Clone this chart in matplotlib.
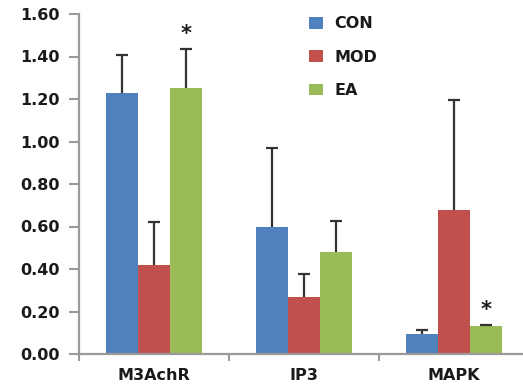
import numpy as np
import matplotlib
matplotlib.use("Agg")
import matplotlib.pyplot as plt

categories = ["M3AchR", "IP3", "MAPK"]
series = ["CON", "MOD", "EA"]
con_vals = [1.23, 0.60, 0.095]
con_err = [0.175, 0.37, 0.02]
mod_vals = [0.42, 0.27, 0.68]
mod_err = [0.20, 0.105, 0.515]
ea_vals = [1.25, 0.48, 0.13]
ea_err = [0.185, 0.145, 0.006]
star_idx = [0, 2]  # EA significant
y_ticks = [0.0, 0.2, 0.4, 0.6, 0.8, 1.0, 1.2, 1.4, 1.6]

colors = ["#4F81BD", "#C0504D", "#9BBB59"]
txt_color = '#1a1a1a'
axis_color = '#9a9a9a'

plt.rcParams['font.family'] = ['DejaVu Sans']
plt.rcParams['font.weight'] = 'bold'

fig = plt.figure(figsize=(5.23, 3.85), dpi=100)
ax = fig.add_axes([79 / 523, 1 - 354 / 385, 450 / 523, 340 / 385])

x = np.arange(len(categories))
w = 0.213
vals = [con_vals, mod_vals, ea_vals]
errs = [con_err, mod_err, ea_err]
for i, (v, e) in enumerate(zip(vals, errs)):
    pos = x + (i - 1) * w
    ax.bar(pos, v, width=w, color=colors[i], label=series[i], zorder=2)
    _, caps, _ = ax.errorbar(pos, v, yerr=[np.zeros(len(v)), e], fmt='none',
                             ecolor='#333333', elinewidth=1.6, capsize=4.5,
                             capthick=1.6, zorder=3)
    caps[0].set_visible(False)  # only upper cap

for k in star_idx:
    ax.text(x[k] + w, ea_vals[k] + ea_err[k] + 0.045, "*", ha='center',
            va='baseline', fontsize=15, color=txt_color)

ax.set_xlim(-0.5, 2.5)
ax.set_ylim(0, 1.6)
ax.set_yticks(y_ticks)
ax.set_yticklabels(["%.2f" % t for t in y_ticks], fontsize=11.5, color=txt_color)
ax.set_xticks(x)
ax.set_xticklabels(categories, fontsize=11.5, color=txt_color)
ax.tick_params(axis='x', length=0, pad=10)
ax.set_xticks([-0.5, 0.5, 1.5, 2.5], minor=True)
ax.tick_params(axis='x', which='minor', length=5, width=1.5, color=axis_color,
               direction='out')
ax.tick_params(axis='y', length=7, width=1.5, color=axis_color, direction='out',
               pad=7)

for s in ['top', 'right']:
    ax.spines[s].set_visible(False)
for s in ['left', 'bottom']:
    ax.spines[s].set_color(axis_color)
    ax.spines[s].set_linewidth(1.6)

leg = ax.legend(loc='upper left', bbox_to_anchor=(0.48, 1.035), frameon=False,
                fontsize=11.5, handlelength=0.85, handleheight=0.75,
                labelspacing=1.15, handletextpad=0.7)
for t in leg.get_texts():
    t.set_color(txt_color)

fig.savefig("out.png", dpi=100)
